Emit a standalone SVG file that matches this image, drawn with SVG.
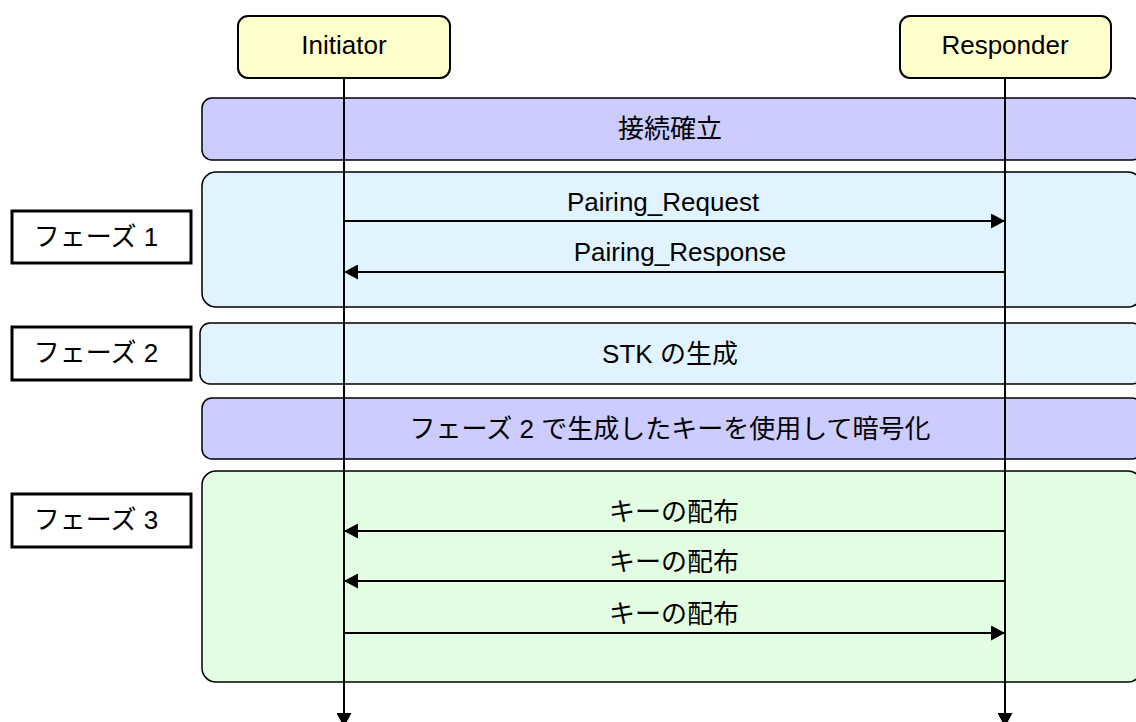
<svg xmlns="http://www.w3.org/2000/svg" width="1136" height="722" viewBox="0 0 1136 722">
<style>
text{font-family:"Liberation Sans","Noto Sans CJK JP",Arial,sans-serif;font-size:26px;fill:#000;text-anchor:middle}
.actor{fill:#FFFFCC;stroke:#000;stroke-width:2}
.band{stroke:#000;stroke-width:1.5}
.purple{fill:#CCCCFF}
.blue{fill:#E1F3FE}
.green{fill:#E3FDE3}
.label{fill:#fff;stroke:#000;stroke-width:3}
.msg{stroke:#000;stroke-width:2;fill:none}
.life{stroke:#000;stroke-width:2;fill:none}
</style>
<defs>
<marker id="ah" markerWidth="14" markerHeight="15" refX="14" refY="7.5" orient="auto" markerUnits="userSpaceOnUse">
<path d="M0,0 L14,7.5 L0,15 Z" fill="#000"/>
</marker>
</defs>
<rect width="1136" height="722" fill="#fff"/>
<g id="band-connect">
<rect class="band purple" x="202" y="98" width="940" height="62" rx="10"/>
<text x="670" y="138">接続確立</text>
</g>
<g id="band-phase1">
<rect class="band blue" x="202" y="172" width="940" height="135" rx="14"/>
</g>
<g id="band-phase2">
<rect class="band blue" x="200" y="323" width="942" height="61" rx="10"/>
<text x="670" y="363">STK の生成</text>
</g>
<g id="band-encrypt">
<rect class="band purple" x="202" y="398" width="940" height="61" rx="10"/>
<text x="670" y="438">フェーズ 2 で生成したキーを使用して暗号化</text>
</g>
<g id="band-phase3">
<rect class="band green" x="202" y="471" width="940" height="211" rx="14"/>
</g>
<g id="label1">
<rect class="label" x="12" y="211" width="179" height="52"/>
<text x="96" y="246">フェーズ 1</text>
</g>
<g id="label2">
<rect class="label" x="12" y="327" width="179" height="53"/>
<text x="96" y="362">フェーズ 2</text>
</g>
<g id="label3">
<rect class="label" x="12" y="494" width="179" height="53"/>
<text x="96" y="529">フェーズ 3</text>
</g>
<g id="initiator">
<rect class="actor" x="238" y="16" width="212" height="62" rx="10"/>
<text x="344" y="54">Initiator</text>
</g>
<g id="responder">
<rect class="actor" x="900" y="16" width="211" height="62" rx="10"/>
<text x="1005" y="54">Responder</text>
</g>
<g id="connectors">
<line class="msg" x1="344" y1="221" x2="1005" y2="221" marker-end="url(#ah)"/>
<text x="663" y="211">Pairing_Request</text>
<line class="msg" x1="1005" y1="272" x2="344" y2="272" marker-end="url(#ah)"/>
<text x="680" y="261">Pairing_Response</text>
<line class="msg" x1="1005" y1="531" x2="344" y2="531" marker-end="url(#ah)"/>
<text x="674" y="521">キーの配布</text>
<line class="msg" x1="1005" y1="581" x2="344" y2="581" marker-end="url(#ah)"/>
<text x="674" y="571">キーの配布</text>
<line class="msg" x1="344" y1="633" x2="1005" y2="633" marker-end="url(#ah)"/>
<text x="674" y="623">キーの配布</text>
<line class="life" x1="344" y1="78" x2="344" y2="727" marker-end="url(#ah)"/>
<line class="life" x1="1005" y1="78" x2="1005" y2="727" marker-end="url(#ah)"/>
</g>
</svg>
